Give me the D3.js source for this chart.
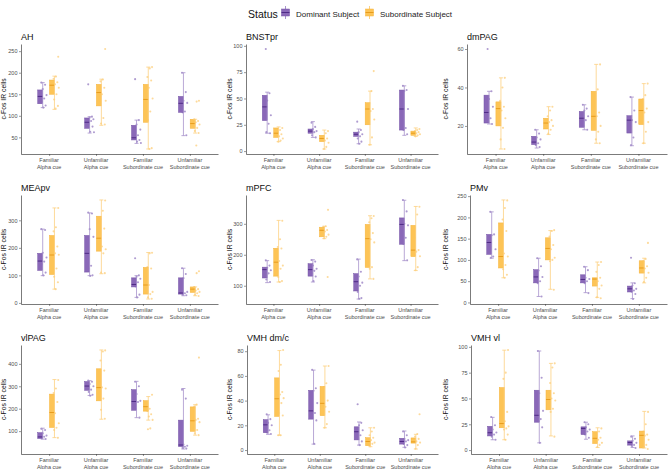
<!DOCTYPE html>
<html>
<head>
<meta charset="utf-8">
<script src="https://cdn.jsdelivr.net/npm/d3@7"></script>
<style>
body{margin:0;background:#fff}
text{font-family:"Liberation Sans",Arial,sans-serif}
</style>
</head>
<body>
<div id="canvas"></div>
<script>
// categories
const regions = ['AH','BNSTpr','dmPAG','MEApv','mPFC','PMv','vlPAG','VMH dm/c','VMH vl']
const cues = ['Familiar\nAlpha cue','Unfamiliar\nAlpha cue','Familiar\nSubordinate cue','Unfamiliar\nSubordinate cue']
const statuses = ['Dominant Subject','Subordinate Subject']

// y tick labels per region
const yTicks = [
  [50,100,150,200,250],[0,25,50,75,100],[20,40,60],
  [0,100,200,300],[100,200,300],[0,50,100,150,200,250],
  [100,200,300,400],[0,20,40,60,80],[0,25,50,75,100]
]

// box stats [lower whisker, q1, median, q3, upper whisker]
// order: FamA-Dom, FamA-Sub, UnfA-Dom, UnfA-Sub, FamS-Dom, FamS-Sub, UnfS-Dom, UnfS-Sub
const boxAH = [[119,128,145,160,177],[115,150,171,183,192],[60,71,85,95,98],[78,123,154,173,185],
  [36,44,49,78,90],[23,85,138,173,213],[54,108,129,145,200],[60,71,82,92,92]]
const boxBNSTpr = [[17,29,42,53,56],[9,13,17,22,23],[13,17,19,21,28],[2,9,12,15,20],
  [7,14,16,18,21],[6,25,40,46,57],[15,20,40,58,62],[14,15,17,19,22]]
const boxDmPAG = [[21,21.5,27,36,38],[8,20,29,32.5,45],[8.5,10.3,11.6,14.6,18],[15.5,18.4,21.5,24,30],
  [18,19.3,24,27.5,31],[11,17.7,25,38,52],[9.7,16.3,23,25.3,35],[11,20.7,28,34,42]]
const boxMEApv = [[99,118,152,180,268],[50,103,174,245,345],[99,112,180,245,327],[106,188,235,315,374],
  [20,58,67,91,99],[14,32,65,129,183],[26,32,36,91,126],[26,38,50,58,58]]
const boxMPFC = [[110,125,152,160,181],[112,131,176,221,311],[112,131,152,171,184],[252,258,279,289,292],
  [57,83,113,139,186],[122,159,252,298,326],[181,234,298,319,376],[149,194,215,295,356]]
const boxPMv = [[104,113,141,160,213],[58,81,108,187,241],[14,46,60,77,104],[31,100,127,152,169],
  [23,46,54,65,84],[12,38.5,55,58,95],[9,24.6,32,38.5,46],[46,69,81,98,104]]
const boxVlPAG = [[64,67,74,93,113],[71,116,183,265,330],[259,282,301,321,325],[153,235,294,378,462],
  [160,193,232,285,322],[149,189,209,236,254],[20,31,38,149,290],[82,99,146,208,218]]
const boxVMHdmc = [[12.7,14,20.4,24.6,28.5],[12,27.2,41.5,58.4,80.5],[4.8,25,31.7,48.3,64.7],[18,27.8,37.8,51.5,68],
  [4,8.2,14.8,18.8,22.7],[2.7,3.5,6.9,10,18],[2.2,4.8,6.9,9.5,15.4],[0.8,5.6,6.6,9.8,12.7]]
const boxVMHvl = [[10,13.7,16.8,23,31.7],[10,21.6,25.7,60.6,96.8],[7,27,33.7,58,96],[13.7,39,49,58,84],
  [10.5,15,21,22.5,27],[2.5,6.3,11.4,17.8,21.6],[2.5,4.8,7.3,8.9,13.7],[2,2,14.3,18.4,37.5]]

// individual animals
const ptsAH = [[177,172,162,148,140,133,124,119],[237,191,186,178,173,165,150,138,123,117],
  [173,98,96,92,88,80,75,63,62],[255,184,180,165,150,135,95,82,80],
  [185,90,80,68,55,48,44,40,37],[213,210,190,182,165,140,110,90,25,23],
  [200,155,135,130,110,108,55],[135,133,92,88,85,80,72,65,60,31]]
const ptsBNSTpr = [[97,55,48,34,26,18,17],[22,20,18,16,14,12,10,9],
  [27,23,21,19,18,15,13],[19,17,14,12,10,8,4,2],
  [28,20,18,16,14,12,9,7],[76,57,45,40,38,30,13,6],
  [62,58,57,40,22,20,16],[21,20,19,18,17,16,15,14]]
const ptsDmPAG = [[60,38,34,30,24,22,21],[45,40,33,30,28,24,19,13,8],
  [18,16,14,13,11,10,9],[30,28,25,23,22,20,18,16],
  [31,29,28,25,23,20,18],[52,39,37,27,25,20,17,13,11],
  [35,28,23,22,14,10],[42,36,34,29,27,22,17,11]]
const ptsMEApv = [[268,265,182,165,150,140,110,100],[345,275,260,205,180,175,125,95,75,50],
  [328,325,268,240,135,125,100,98],[372,335,305,270,205,195,180,110,108],
  [162,100,95,88,75,60,30,20],[182,180,130,125,65,40,32,20,15],
  [126,105,90,40,35,30,28],[115,108,58,50,45,40,35,30,25]]
const ptsMPFC = [[182,165,158,150,140,120,112],[310,250,225,220,180,165,155,128,115,112],
  [183,178,165,155,148,140,130,115],[345,292,290,280,275,265,258,253,128],
  [185,145,130,110,100,80,60,58],[325,318,305,270,250,240,160,155,122],
  [377,340,300,295,255,235,182],[355,330,255,215,210,195,160,150]]
const ptsPMv = [[213,160,158,125,108,105],[240,222,195,168,115,108,88,78,65,58],
  [104,85,75,60,50,45,14],[170,168,155,135,125,105,100,97,30],
  [84,76,58,55,50,45,22],[95,88,72,58,50,40,32,12,10],
  [105,45,40,32,28,25,20,8],[140,102,97,85,80,70,58,48]]
const ptsVlPAG = [[110,105,90,80,75,68,65],[328,290,270,230,180,135,115,105,70],
  [325,320,310,300,285,275,262,258],[460,455,415,370,295,290,245,195,155],
  [320,300,265,235,230,200,160],[262,200,190,175,165,150,112,108],
  [285,245,40,35,30,25,22],[428,218,210,155,150,140,105,90,82]]
const ptsVMHdmc = [[29,25,22,20,16,14,13],[81,69,64,47,45,42,38,30,28,12,12],
  [65,50,48,38,30,26,24,5],[68,54,51,40,35,31,21,18],
  [37,22,20,16,12,9,7,4],[18,15,12,10,8,6,5,3],
  [15,12,9,8,7,5,4,2],[29,13,11,9,7,6,4,1]]
const ptsVMHvl = [[32,24,20,17,15,13,10],[97,75,69,37,28,23,21,20,15,10],
  [96,70,55,38,30,28,22,7],[84,80,65,55,50,48,40,37,13],
  [27,25,22,20,18,15,12],[21,18,15,12,10,7,5,3],
  [13,11,9,7,5,4,2],[37,25,18,15,14,10,5,3,1]]

const boxes = [boxAH,boxBNSTpr,boxDmPAG,boxMEApv,boxMPFC,boxPMv,boxVlPAG,boxVMHdmc,boxVMHvl]
const points = [ptsAH,ptsBNSTpr,ptsDmPAG,ptsMEApv,ptsMPFC,ptsPMv,ptsVlPAG,ptsVMHdmc,ptsVMHvl]

const width = 669, height = 469
// layout
const axisX = [21,246,467, 21,246,470, 21,247,471]
const colRight = [218,438,667]
const yTitleBase = [6.3,232,448]
const rowTop = [44,195,345]
const rowBottom = [154,304,454]

const boxFill = ['#8a68b8','#fdc456']
const boxStroke = ['#7453a6','#f5b43c']
const medianCol = ['#4f2a86','#e89c1c']
const whiskCol = ['#a792cc','#fdd182']
const ptCol = ['#a08ac8','#fdd48a']

const svg = d3.select('#canvas')
  .append('svg')
  .attr('width',width)
  .attr('height',height)

// legend
const leg = svg.append('g')
leg.append('text').text('Status').attr('x',248).attr('y',18).attr('font-size',10.5).attr('fill','#111')
const legX = [281,365]
statuses.forEach((s,i)=>{
  const g = leg.append('g').attr('transform',`translate(${legX[i]},6)`)
  g.append('line').attr('x1',4.5).attr('x2',4.5).attr('y1',0).attr('y2',13).attr('stroke',whiskCol[i]).attr('stroke-width',1)
  g.append('rect').attr('x',0.5).attr('y',3).attr('width',8).attr('height',7)
    .attr('fill',boxFill[i]).attr('stroke',boxStroke[i]).attr('stroke-width',0.5)
  g.append('line').attr('x1',0.5).attr('x2',8.5).attr('y1',6.5).attr('y2',6.5).attr('stroke',medianCol[i]).attr('stroke-width',1)
  leg.append('text').text(s).attr('x',legX[i]+15).attr('y',16.5).attr('font-size',8).attr('fill','#222')
})

const jit = i => ((i*0.618034)%1)

regions.forEach((reg,k)=>{
  const row = Math.floor(k/3), col = k%3
  const left = axisX[k], right = colRight[col]
  const top = rowTop[row], bottom = rowBottom[row]
  const g = svg.append('g')

  const allVals = points[k].flat().concat(boxes[k].flat())
  const lo = d3.min(allVals), hi = d3.max(allVals)
  const pad = (hi-lo)*0.05
  const y = d3.scaleLinear().domain([lo-pad, hi+pad]).range([bottom, top])
  const x = d3.scalePoint().domain(cues).range([left, right]).padding(0.6)
  const step = x.step()

  // title
  g.append('text').text(reg).attr('x',left).attr('y',top-4).attr('font-size',9).attr('fill','#111')
  // y title
  g.append('text').text('c-Fos IR cells')
    .attr('transform',`translate(${yTitleBase[col]},${(top+bottom)/2}) rotate(-90)`)
    .attr('text-anchor','middle').attr('font-size',6.8).attr('fill','#111')

  // axes
  const yAxis = g.append('g').attr('transform',`translate(${left},0)`)
    .call(d3.axisLeft(y).tickValues(yTicks[k]).tickSize(2).tickSizeOuter(0).tickPadding(1.5))
  yAxis.selectAll('text').attr('font-size',5.5).attr('fill','#4d4d4d')
  const xAxis = g.append('g').attr('transform',`translate(0,${bottom})`)
    .call(d3.axisBottom(x).tickSize(2).tickSizeOuter(0).tickFormat(''))
  ;[yAxis,xAxis].forEach(a=>{
    a.select('.domain').attr('stroke','#222').attr('stroke-width',0.6)
    a.selectAll('.tick line').attr('stroke','#333').attr('stroke-width',0.5)
  })
  cues.forEach(c=>{
    const t = g.append('text').attr('text-anchor','middle').attr('font-size',5.5).attr('fill','#4d4d4d')
    c.split('\n').forEach((ln,j)=>{
      t.append('tspan').attr('x',x(c)).attr('y',bottom+8+j*6.5).text(ln)
    })
  })

  // boxes
  const boxOff = [-0.19,0.06], halfW = 0.053
  const groups = boxes[k].map((b,gi)=>({b, pts:points[k][gi], c:cues[Math.floor(gi/2)], s:gi%2}))
  groups.forEach(d=>{
    const cx = x(d.c) + boxOff[d.s]*step
    const x0 = cx - halfW*step, x1 = cx + halfW*step
    const wx = x1
    // points
    d.pts.forEach((v,i)=>{
      g.append('circle').attr('cx',wx + (-0.03 + jit(i+d.s*3)*0.13)*step).attr('cy',y(v)).attr('r',1.05)
        .attr('fill',ptCol[d.s]).attr('opacity',0.85)
    })
    g.append('rect').attr('x',x0).attr('y',y(d.b[3])).attr('width',x1-x0).attr('height',y(d.b[1])-y(d.b[3]))
      .attr('fill',boxFill[d.s]).attr('stroke',boxStroke[d.s]).attr('stroke-width',0.5)
    g.append('line').attr('x1',x0).attr('x2',x1).attr('y1',y(d.b[2])).attr('y2',y(d.b[2]))
      .attr('stroke',medianCol[d.s]).attr('stroke-width',1)
    // errorbar whisker
    g.append('line').attr('x1',wx).attr('x2',wx).attr('y1',y(d.b[0])).attr('y2',y(d.b[4]))
      .attr('stroke',whiskCol[d.s]).attr('stroke-width',0.8)
    ;[d.b[0],d.b[4]].forEach(v=>{
      g.append('line').attr('x1',wx-2).attr('x2',wx+2).attr('y1',y(v)).attr('y2',y(v))
        .attr('stroke',whiskCol[d.s]).attr('stroke-width',0.8)
    })
  })
})
</script>
</body>
</html>
